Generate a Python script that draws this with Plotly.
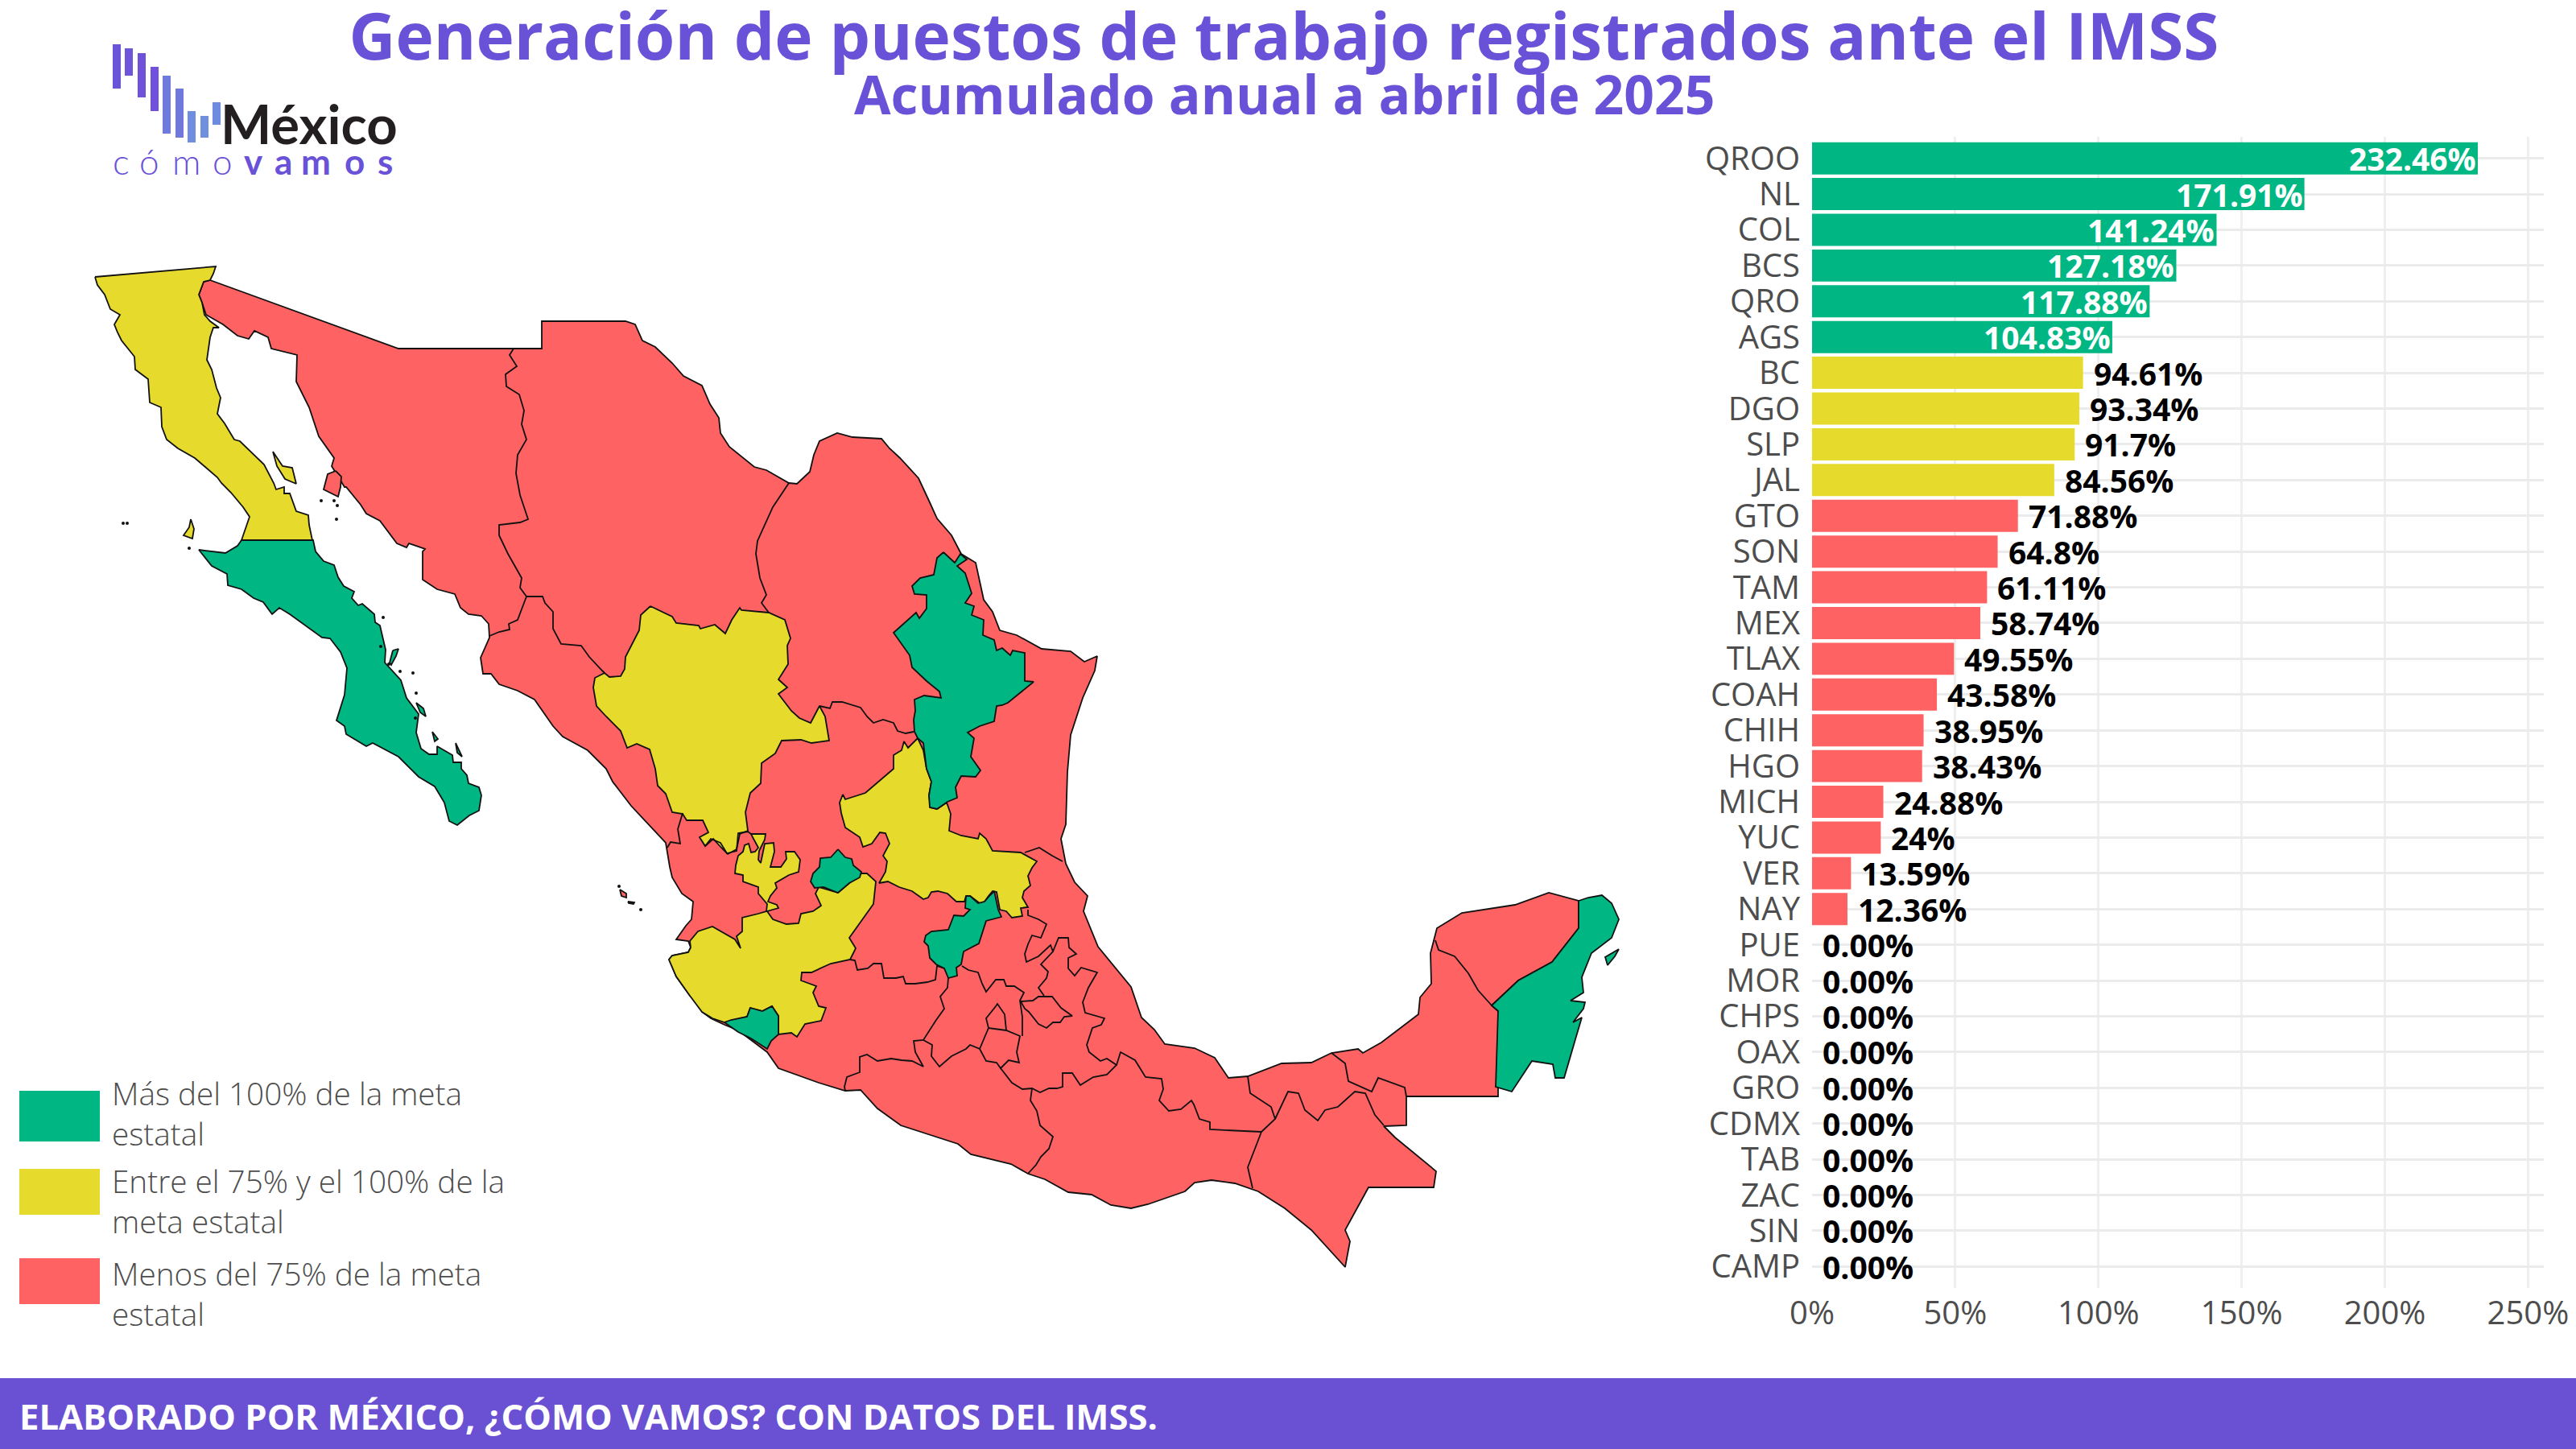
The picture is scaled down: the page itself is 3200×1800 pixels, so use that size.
import plotly.graph_objects as go

# ----- Bar chart data -----
states = ["QROO", "NL", "COL", "BCS", "QRO", "AGS", "BC", "DGO", "SLP", "JAL", "GTO", "SON", "TAM", "MEX", "TLAX",
          "COAH", "CHIH", "HGO", "MICH", "YUC", "VER", "NAY", "PUE", "MOR", "CHPS", "OAX", "GRO", "CDMX", "TAB",
          "ZAC", "SIN", "CAMP"]
values = [232.46, 171.91, 141.24, 127.18, 117.88, 104.83, 94.61, 93.34, 91.7, 84.56, 71.88, 64.8, 61.11, 58.74,
          49.55, 43.58, 38.95, 38.43, 24.88, 24, 13.59, 12.36, 0, 0, 0, 0, 0, 0, 0, 0, 0, 0]
labels = ["232.46%", "171.91%", "141.24%", "127.18%", "117.88%", "104.83%", "94.61%", "93.34%", "91.7%", "84.56%",
          "71.88%", "64.8%", "61.11%", "58.74%", "49.55%", "43.58%", "38.95%", "38.43%", "24.88%", "24%", "13.59%",
          "12.36%", "0.00%", "0.00%", "0.00%", "0.00%", "0.00%", "0.00%", "0.00%", "0.00%", "0.00%", "0.00%"]
x_ticks = [0, 50, 100, 150, 200, 250]
x_tick_labels = ["0%", "50%", "100%", "150%", "200%", "250%"]

GREEN = "#00B783"
YELLOW = "#E6DA2C"
RED = "#FE6262"
PURPLE = "#6A52D8"
GREY = "#4D4D4D"
FONT = "Open Sans"

# ----- Map outlines (map grid units) -----
mainland = [(261, 348), (495, 433), (673, 433), (673, 399), (777, 399), (789, 403), (798, 423), (814, 431), (835, 451),
            (849, 467), (872, 479), (882, 502), (893, 519), (895, 538), (906, 555), (921, 567), (937, 580), (952, 584),
            (980, 600), (990, 601), (1006, 586), (1011, 565), (1018, 548), (1040, 538), (1059, 543), (1095, 545),
            (1105, 557), (1118, 569), (1141, 594), (1154, 622), (1164, 644), (1182, 665), (1194, 688), (1212, 699),
            (1217, 722), (1222, 745), (1233, 760), (1242, 783), (1263, 789), (1294, 806), (1330, 809), (1347, 822),
            (1363, 815), (1360, 833), (1345, 867), (1330, 913), (1326, 959), (1324, 1024), (1318, 1042), (1324, 1073),
            (1335, 1096), (1351, 1113), (1346, 1132), (1364, 1176), (1405, 1226), (1418, 1264), (1434, 1279),
            (1447, 1297), (1484, 1302), (1509, 1314), (1526, 1339), (1550, 1337), (1592, 1321), (1629, 1320),
            (1654, 1308), (1687, 1303), (1693, 1308), (1716, 1295), (1762, 1260), (1764, 1239), (1778, 1222),
            (1777, 1184), (1785, 1153), (1816, 1134), (1882, 1124), (1924, 1109), (1961, 1119), (1961, 1153),
            (1928, 1195), (1886, 1218), (1853, 1249), (1861, 1256), (1861, 1362), (1747, 1362), (1747, 1398),
            (1719, 1399), (1733, 1413), (1766, 1440), (1784, 1455), (1781, 1475), (1700, 1475), (1671, 1528),
            (1677, 1542), (1671, 1574), (1629, 1528), (1596, 1501), (1563, 1480), (1534, 1470), (1505, 1466),
            (1484, 1469), (1472, 1480), (1426, 1496), (1405, 1501), (1380, 1497), (1356, 1484), (1327, 1481),
            (1298, 1465), (1277, 1458), (1256, 1446), (1206, 1434), (1190, 1421), (1119, 1398), (1090, 1377),
            (1069, 1354), (1050, 1355), (1017, 1345), (967, 1327), (953, 1307), (917, 1280), (900, 1273), (883, 1265),
            (872, 1257), (867, 1245), (857, 1237), (840, 1213), (831, 1192), (835, 1187), (855, 1183), (858, 1177),
            (855, 1169), (840, 1167), (852, 1150), (859, 1142), (861, 1120), (847, 1110), (835, 1090), (832, 1077),
            (827, 1047), (809, 1028), (784, 1001), (761, 971), (753, 955), (730, 932), (699, 915), (687, 902),
            (664, 869), (643, 858), (620, 850), (610, 837), (600, 837), (597, 817), (608, 792), (607, 775), (598, 765),
            (582, 763), (572, 755), (565, 738), (543, 732), (525, 720), (525, 685), (528, 682), (508, 675), (505, 680),
            (493, 675), (472, 647), (455, 638), (448, 627), (430, 605), (428, 605), (412, 579), (415, 569), (396, 542),
            (384, 506), (368, 474), (369, 441), (337, 433), (333, 419), (316, 411), (309, 421), (295, 417), (277, 403),
            (256, 391), (251, 376), (247, 366), (253, 350)]
tiburon = [(417, 585), (424, 592), (423, 605), (420, 617), (402, 608), (407, 589)]
islas_marias = [(770, 1105), (778, 1110), (778, 1115), (772, 1113)]
maria_madre = [(780, 1120), (788, 1121), (787, 1123), (781, 1122)]

bc = [(118, 344), (268, 331), (265, 340), (261, 348), (253, 350), (247, 366), (251, 376), (254, 391), (261, 399),
      (272, 407), (265, 407), (261, 419), (257, 447), (263, 459), (269, 482), (274, 494), (270, 514), (279, 526),
      (291, 546), (298, 548), (328, 577), (340, 600), (343, 608), (353, 605), (353, 613), (360, 613), (368, 635),
      (383, 640), (384, 652), (388, 671), (300, 671), (310, 642), (302, 630), (287, 612), (275, 600), (270, 593),
      (242, 569), (221, 557), (207, 546), (201, 530), (200, 506), (186, 500), (184, 471), (168, 459), (167, 443),
      (151, 423), (146, 413), (142, 403), (149, 391), (137, 384), (130, 366), (121, 354)]
angel_guarda = [(339, 561), (351, 579), (363, 581), (368, 601), (354, 595), (344, 579)]
cedros = [(237, 645), (241, 657), (239, 669), (228, 665), (235, 655)]

bcs = [(300, 671), (389, 671), (392, 685), (402, 697), (415, 702), (420, 717), (427, 728), (440, 735), (437, 743),
       (445, 752), (450, 750), (465, 763), (466, 773), (472, 777), (475, 790), (479, 807), (478, 823), (498, 845),
       (505, 867), (520, 887), (517, 910), (523, 930), (533, 937), (543, 937), (543, 927), (562, 938), (563, 947),
       (573, 947), (573, 955), (580, 963), (582, 973), (595, 978), (598, 988), (595, 1007), (583, 1013), (568, 1025),
       (558, 1020), (552, 997), (540, 977), (520, 965), (495, 940), (463, 923), (455, 927), (430, 912), (428, 902),
       (418, 895), (428, 863), (431, 830), (423, 810), (410, 793), (400, 792), (360, 763), (347, 755), (338, 763),
       (327, 748), (315, 743), (300, 732), (283, 727), (282, 713), (263, 703), (247, 683), (280, 687), (295, 678)]
carmen = [(488, 808), (495, 806), (492, 815), (486, 826), (484, 823)]
espiritu_santo = [(517, 873), (526, 880), (529, 890), (522, 885)]
cerralvo = [(566, 923), (574, 940), (568, 935)]
san_jose = [(537, 909), (544, 918), (540, 921)]

nl = [(1172, 686), (1186, 699), (1193, 688), (1201, 695), (1189, 703), (1199, 712), (1207, 737), (1199, 749),
      (1210, 753), (1207, 764), (1222, 770), (1221, 789), (1235, 795), (1238, 808), (1245, 805), (1255, 814),
      (1258, 808), (1273, 811), (1273, 846), (1284, 847), (1252, 873), (1245, 876), (1238, 877), (1235, 896),
      (1217, 902), (1202, 910), (1210, 917), (1206, 940), (1218, 957), (1212, 965), (1194, 964), (1187, 978),
      (1189, 991), (1177, 996), (1164, 1005), (1155, 1003), (1154, 988), (1157, 971), (1151, 955), (1147, 923),
      (1140, 917), (1136, 909), (1135, 894), (1137, 883), (1136, 869), (1148, 864), (1169, 867), (1167, 859),
      (1151, 846), (1133, 829), (1130, 814), (1120, 800), (1110, 786), (1138, 761), (1142, 768), (1151, 756),
      (1151, 739), (1136, 738), (1133, 728), (1143, 718), (1160, 714), (1164, 693)]
dgo = [(808, 753), (835, 766), (840, 774), (868, 777), (870, 781), (888, 776), (901, 787), (909, 770), (919, 755),
       (921, 758), (955, 761), (975, 770), (982, 793), (978, 802), (979, 825), (967, 844), (978, 854), (967, 862),
       (983, 883), (993, 892), (1007, 898), (1018, 877), (1025, 890), (1030, 920), (1008, 923), (995, 919), (971, 920),
       (963, 936), (946, 948), (945, 973), (932, 985), (926, 1009), (929, 1032), (919, 1036), (915, 1055), (904, 1061),
       (896, 1053), (886, 1042), (876, 1051), (869, 1040), (880, 1034), (873, 1019), (853, 1019), (848, 1011),
       (835, 1009), (827, 986), (817, 976), (814, 955), (807, 931), (791, 924), (779, 929), (771, 908), (753, 890),
       (741, 877), (737, 854), (739, 842), (751, 836), (757, 841), (771, 840), (776, 831), (777, 816), (784, 802),
       (794, 783), (796, 764)]
slp = [(1140, 917), (1147, 932), (1151, 955), (1157, 971), (1154, 988), (1156, 1003), (1164, 1005), (1176, 997),
       (1181, 1011), (1179, 1032), (1194, 1038), (1215, 1042), (1217, 1035), (1225, 1042), (1233, 1057), (1268, 1059),
       (1288, 1070), (1282, 1078), (1277, 1088), (1280, 1100), (1272, 1107), (1270, 1115), (1277, 1127), (1268, 1128),
       (1270, 1138), (1257, 1140), (1250, 1132), (1242, 1130), (1238, 1108), (1233, 1107), (1228, 1113), (1223, 1120),
       (1217, 1122), (1205, 1113), (1200, 1113), (1198, 1120), (1188, 1120), (1177, 1110), (1165, 1107), (1157, 1108),
       (1153, 1115), (1147, 1117), (1133, 1107), (1117, 1102), (1103, 1095), (1092, 1097), (1100, 1083), (1102, 1070),
       (1097, 1063), (1105, 1048), (1100, 1035), (1093, 1034), (1083, 1048), (1072, 1052), (1068, 1040), (1050, 1028),
       (1045, 1010), (1043, 997), (1047, 987), (1050, 993), (1075, 985), (1110, 955), (1110, 938), (1120, 932),
       (1123, 921), (1128, 929)]
qro = [(1200, 1113), (1205, 1113), (1215, 1122), (1223, 1120), (1230, 1112), (1235, 1107), (1240, 1130), (1244, 1139),
       (1225, 1144), (1216, 1172), (1197, 1182), (1194, 1198), (1188, 1202), (1189, 1212), (1178, 1215), (1173, 1203),
       (1163, 1198), (1155, 1190), (1153, 1175), (1148, 1170), (1150, 1162), (1157, 1157), (1178, 1155), (1185, 1137),
       (1197, 1138), (1205, 1130), (1199, 1128)]
ags = [(1041, 1055), (1050, 1065), (1058, 1067), (1060, 1075), (1070, 1083), (1068, 1090), (1055, 1097), (1041, 1109),
       (1023, 1102), (1012, 1103), (1007, 1095), (1010, 1085), (1018, 1077), (1019, 1066), (1032, 1065)]
col = [(900, 1270), (908, 1267), (928, 1263), (932, 1252), (947, 1256), (959, 1250), (967, 1262), (967, 1285),
       (958, 1293), (953, 1303), (933, 1290), (917, 1282), (907, 1275)]
jal = [(831, 1192), (835, 1187), (855, 1183), (858, 1177), (857, 1169), (867, 1157), (885, 1151), (900, 1160),
       (913, 1167), (920, 1178), (915, 1163), (922, 1157), (922, 1140), (942, 1135), (952, 1132), (953, 1123),
       (942, 1110), (942, 1102), (923, 1095), (923, 1087), (913, 1085), (914, 1075), (917, 1063), (923, 1058),
       (925, 1050), (930, 1048), (933, 1059), (938, 1058), (942, 1053), (935, 1040), (933, 1036), (951, 1036),
       (950, 1043), (943, 1057), (942, 1068), (945, 1072), (950, 1048), (961, 1047), (962, 1058), (957, 1077),
       (970, 1077), (977, 1067), (976, 1058), (987, 1058), (994, 1068), (992, 1083), (980, 1087), (963, 1097),
       (965, 1103), (957, 1113), (954, 1120), (965, 1124), (967, 1128), (953, 1132), (960, 1142), (977, 1148),
       (992, 1147), (995, 1135), (1010, 1132), (1020, 1125), (1013, 1110), (1017, 1102), (1041, 1109), (1055, 1097),
       (1070, 1085), (1077, 1085), (1088, 1095), (1085, 1123), (1075, 1137), (1055, 1165), (1063, 1178), (1056, 1192),
       (1032, 1197), (1008, 1208), (996, 1208), (995, 1218), (1014, 1225), (1010, 1233), (1017, 1250), (1026, 1252),
       (1020, 1268), (1000, 1272), (990, 1288), (983, 1283), (967, 1285), (967, 1262), (959, 1250), (947, 1256),
       (932, 1252), (928, 1263), (900, 1270), (885, 1265), (872, 1257), (857, 1237), (840, 1213)]
qroo = [(1961, 1119), (1973, 1115), (1990, 1112), (2002, 1122), (2011, 1142), (2002, 1165), (1977, 1184), (1965, 1214),
        (1967, 1233), (1951, 1243), (1969, 1245), (1967, 1253), (1954, 1270), (1965, 1264), (1957, 1291), (1943, 1339),
        (1932, 1339), (1929, 1322), (1903, 1318), (1878, 1356), (1858, 1350), (1861, 1256), (1853, 1249), (1886, 1218),
        (1928, 1195), (1961, 1153)]
cozumel = [(2011, 1179), (2006, 1188), (1997, 1199), (1994, 1189)]

# internal borders between the red states
son_chih = [(638, 433), (633, 441), (642, 455), (628, 465), (629, 480), (645, 490), (651, 510), (648, 527), (654, 546),
            (643, 565), (641, 588), (646, 615), (656, 645), (646, 649), (620, 652), (620, 665), (631, 688), (648, 718),
            (646, 730), (654, 741)]
son_sin = [(654, 741), (643, 770), (632, 775), (633, 782), (620, 785), (608, 790)]
chih_sin = [(654, 741), (674, 741), (677, 749), (687, 760), (687, 781), (697, 800), (722, 802), (732, 816), (748, 833),
            (751, 836)]
chih_coah = [(980, 600), (960, 630), (941, 672), (939, 688), (944, 718), (952, 739), (946, 749), (955, 761)]
coah_zac = [(1018, 877), (1031, 880), (1034, 872), (1046, 872), (1069, 879), (1077, 890), (1085, 898), (1097, 894),
            (1110, 898), (1115, 908), (1125, 911), (1135, 909)]
tam_ver = [(1273, 1059), (1291, 1053), (1307, 1063), (1320, 1070)]
nay_sin = [(848, 1010), (842, 1030), (845, 1048), (833, 1046), (829, 1053)]
nay_zac = [(876, 1051), (883, 1042), (895, 1047), (903, 1060), (915, 1057), (917, 1035), (929, 1033), (933, 1036)]
gto_mich = [(1056, 1192), (1062, 1193), (1065, 1205), (1078, 1203), (1085, 1197), (1095, 1197), (1098, 1215),
            (1113, 1215), (1122, 1213), (1125, 1222), (1137, 1222), (1152, 1220), (1162, 1217), (1164, 1200),
            (1173, 1203)]
mich_mex = [(1178, 1215), (1177, 1227), (1168, 1238), (1173, 1253), (1163, 1267), (1147, 1292), (1135, 1293),
            (1137, 1307), (1147, 1325), (1133, 1318), (1120, 1317), (1107, 1315), (1090, 1318), (1077, 1310),
            (1068, 1313), (1068, 1332), (1052, 1338), (1049, 1350), (1050, 1355)]
mex_gro = [(1147, 1292), (1158, 1298), (1157, 1312), (1167, 1325), (1182, 1312), (1200, 1303), (1205, 1298),
           (1217, 1303), (1225, 1318), (1238, 1320), (1243, 1327), (1253, 1317), (1266, 1320), (1263, 1307),
           (1267, 1287), (1257, 1283), (1250, 1280), (1228, 1277), (1217, 1303)]
cdmx = [(1228, 1277), (1225, 1265), (1237, 1250), (1239, 1247), (1248, 1260), (1250, 1280)]
mex_hgo = [(1195, 1200), (1203, 1205), (1215, 1208), (1220, 1222), (1225, 1232), (1237, 1217), (1247, 1217),
           (1250, 1225), (1260, 1225), (1272, 1233), (1267, 1243), (1270, 1263), (1270, 1287)]
hgo_ver = [(1277, 1130), (1277, 1137), (1290, 1142), (1300, 1148), (1293, 1165), (1282, 1162), (1277, 1173),
           (1273, 1185), (1275, 1195), (1290, 1188), (1305, 1174), (1308, 1182), (1293, 1198), (1302, 1207),
           (1300, 1215), (1290, 1227), (1297, 1237)]
tlax = [(1268, 1244), (1273, 1253), (1278, 1257), (1290, 1272), (1300, 1277), (1308, 1270), (1317, 1270), (1322, 1263),
        (1332, 1262), (1318, 1252), (1307, 1238), (1290, 1238), (1283, 1243), (1268, 1244)]
pue_ver = [(1308, 1182), (1315, 1165), (1327, 1165), (1328, 1177), (1337, 1185), (1327, 1190), (1327, 1203),
           (1335, 1212), (1343, 1202), (1363, 1208), (1352, 1227), (1345, 1245), (1348, 1258), (1372, 1265),
           (1368, 1273), (1357, 1277), (1350, 1298), (1353, 1307), (1367, 1318), (1375, 1315), (1387, 1323),
           (1375, 1335), (1358, 1338), (1342, 1348), (1332, 1333), (1320, 1333), (1320, 1350), (1313, 1352),
           (1303, 1352), (1292, 1357), (1282, 1352), (1270, 1353), (1257, 1345), (1243, 1327)]
gro_oax = [(1282, 1352), (1280, 1367), (1288, 1380), (1292, 1398), (1308, 1412), (1303, 1427), (1293, 1437),
           (1287, 1447), (1277, 1458)]
oax_ver = [(1387, 1323), (1392, 1307), (1410, 1317), (1423, 1338), (1443, 1340), (1445, 1353), (1440, 1367),
           (1452, 1380), (1467, 1378), (1480, 1367), (1483, 1372), (1490, 1390), (1503, 1394), (1503, 1403),
           (1567, 1406)]
oax_chis = [(1567, 1406), (1550, 1450), (1556, 1476)]
ver_tab = [(1550, 1337), (1553, 1358), (1579, 1375), (1584, 1390), (1567, 1406)]
chis_tab = [(1584, 1390), (1600, 1356), (1613, 1358), (1621, 1379), (1637, 1392), (1646, 1379), (1662, 1375),
            (1683, 1356), (1696, 1358), (1708, 1385), (1719, 1398)]
tab_camp = [(1654, 1308), (1671, 1321), (1675, 1343), (1704, 1356), (1712, 1339), (1745, 1351), (1747, 1362)]
camp_yuc = [(1783, 1168), (1787, 1180), (1807, 1188), (1824, 1209), (1836, 1230), (1853, 1249)]

islets_x = [153, 158, 235, 415, 419, 399, 418, 476, 473, 483, 497, 513, 517, 516, 796, 769]
islets_y = [650, 650, 681, 622, 628, 622, 645, 767, 803, 825, 834, 836, 861, 892, 1130, 1101]

red_shapes = [mainland, tiburon, islas_marias, maria_madre]
green_shapes = [bcs, carmen, espiritu_santo, cerralvo, san_jose, nl, qro, ags, col, qroo, cozumel]
yellow_shapes = [bc, angel_guarda, cedros, dgo, slp, jal]
red_borders = [son_chih, son_sin, chih_sin, chih_coah, coah_zac, tam_ver, nay_sin, nay_zac, gto_mich, mich_mex, mex_gro,
               cdmx, mex_hgo, hgo_ver, tlax, pue_ver, gro_oax, oax_ver, oax_chis, ver_tab, chis_tab, tab_camp, camp_yuc]

# ----- Logo -----
logo_bar_left = [140, 155, 171, 187, 202, 218, 233, 249, 264]
logo_bar_top = [55, 60, 66, 83, 94, 110, 138, 144, 127]
logo_bar_bottom = [110, 94, 121, 138, 166, 171, 177, 171, 155]
logo_bar_color = ["#6A55D8", "#6F55DA", "#7052DA", "#7050DC", "#707ADC", "#7078DC", "#6F8EDF", "#6F90DF", "#6E8CDF"]
logo_light = [("c", 150), ("ó", 185), ("m", 231), ("o", 276)]
logo_bold = [("v", 315), ("a", 352), ("m", 392), ("o", 440), ("s", 478)]


def add_shape(fig, points, color):
    xs, ys = zip(*points)
    fig.add_trace(go.Scatter(x=xs + xs[:1], y=ys + ys[:1], mode="lines", fill="toself", fillcolor=color,
                             line=dict(color="#111111", width=1.8), xaxis="x2", yaxis="y2", hoverinfo="skip"))


def px(x):
    return x / 3200


def py(y):
    return 1 - y / 1800


def page_text(x, y, text, font, xanchor="center", align="center"):
    return dict(x=px(x), y=py(y), xref="paper", yref="paper", showarrow=False, text=text, font=font,
                xanchor=xanchor, yanchor="middle", align=align)


fig = go.Figure()

# ----- Map -----
for shape in red_shapes:
    add_shape(fig, shape, RED)
for shape in yellow_shapes:
    add_shape(fig, shape, YELLOW)
for shape in green_shapes:
    add_shape(fig, shape, GREEN)
for border in red_borders:
    xs, ys = zip(*border)
    fig.add_trace(go.Scatter(x=xs, y=ys, mode="lines", line=dict(color="#111111", width=1.8),
                             xaxis="x2", yaxis="y2", hoverinfo="skip"))
fig.add_trace(go.Scatter(x=islets_x, y=islets_y, mode="markers", marker=dict(color="#111111", size=4),
                         xaxis="x2", yaxis="y2", hoverinfo="skip"))

# ----- Bars -----
bar_colors = [GREEN if v >= 100 else YELLOW if v >= 75 else RED for v in values]
fig.add_trace(go.Bar(x=values, y=states, orientation="h", marker=dict(color=bar_colors, line_width=0),
                     width=0.9, hovertemplate="%{y}: %{x}%<extra></extra>"))

annotations = []
for state, value, label in zip(states, values, labels):
    inside = value >= 100
    annotations.append(dict(x=value, y=state, xref="x", yref="y", text=f"<b>{label}</b>", showarrow=False,
                            xanchor="right" if inside else "left", xshift=0 if inside else 11,
                            font=dict(family=FONT, size=39, color="white" if inside else "black")))

# ----- Titles, legend, footer -----
annotations.append(page_text(1595, 116, "<b>Acumulado anual a abril de 2025</b>",
                             dict(family=FONT, size=66, color=PURPLE)))
annotations.append(page_text(22, 1759, "<b>ELABORADO POR MÉXICO, ¿CÓMO VAMOS? CON DATOS DEL IMSS.</b>",
                             dict(family=FONT, size=43.6, color="white"), xanchor="left", align="left"))
legend_items = [("Más del 100% de la meta<br>estatal", GREEN, 1355, 1418, 1383),
                ("Entre el 75% y el 100% de la<br>meta estatal", YELLOW, 1452, 1509, 1492),
                ("Menos del 75% de la meta<br>estatal", RED, 1563, 1620, 1607)]
shapes = [dict(type="rect", xref="paper", yref="paper", x0=0, x1=1, y0=0, y1=py(1712),
               fillcolor="#6A50D3", line_width=0, layer="below")]
for text, color, top, bottom, center in legend_items:
    shapes.append(dict(type="rect", xref="paper", yref="paper", x0=px(24), x1=px(124), y0=py(bottom), y1=py(top),
                       fillcolor=color, line_width=0))
    annotations.append(page_text(137, center, text, dict(family=FONT, size=38.7, color=GREY, weight=300),
                                 xanchor="left", align="left"))

# ----- Logo drawing -----
for left, top, bottom, color in zip(logo_bar_left, logo_bar_top, logo_bar_bottom, logo_bar_color):
    shapes.append(dict(type="rect", xref="paper", yref="paper", x0=px(left), x1=px(left + 10), y0=py(bottom),
                       y1=py(top), fillcolor=color, line_width=0))
annotations.append(page_text(272, 153, "<b>México</b>", dict(family="Lato", size=67, color="#231F20"),
                             xanchor="left"))
for letter, center in logo_light:
    annotations.append(page_text(center, 200, letter, dict(family="Lato", size=44, color=PURPLE, weight=300)))
for letter, center in logo_bold:
    annotations.append(page_text(center, 200, f"<b>{letter}</b>", dict(family="Lato", size=44, color=PURPLE, weight=900)))

fig.update_layout(
    title=dict(text="<b>Generación de puestos de trabajo registrados ante el IMSS</b>", x=px(1595), y=py(46),
               xanchor="center", yanchor="middle", automargin=False, font=dict(family=FONT, size=80, color=PURPLE)),
    width=3200,
    height=1800,
    margin=dict(l=0, r=0, t=0, b=0, pad=0, autoexpand=False),
    paper_bgcolor="white",
    plot_bgcolor="rgba(0,0,0,0)",
    showlegend=False,
    xaxis=dict(domain=[px(2251), px(3160)], range=[0, 255.5], tickvals=x_ticks, ticktext=x_tick_labels,
               showgrid=True, gridcolor="#EFEFEF", gridwidth=2.5, zeroline=False, ticks="", ticklabelstandoff=4,
               tickfont=dict(family=FONT, size=40, color=GREY), anchor="y", automargin=False),
    yaxis=dict(domain=[py(1600), py(170)], range=[len(states) - 0.4, -0.6], type="category",
               categoryorder="array", categoryarray=states, showgrid=True, gridcolor="#EBEBEB", gridwidth=3,
               zeroline=False, ticks="", ticklabelstandoff=14, tickmode="array", tickvals=states,
               tickfont=dict(family=FONT, size=40, color=GREY), anchor="x", automargin=False),
    xaxis2=dict(domain=[0, px(2100)], range=[0, 2100], visible=False, anchor="y2", automargin=False),
    yaxis2=dict(domain=[py(1700), 1], range=[1700, 0], visible=False, anchor="x2", automargin=False),
    shapes=shapes,
    annotations=annotations,
)

fig.write_html("out.html", config={"displayModeBar": False}, post_script="document.body.style.margin = '0';")
